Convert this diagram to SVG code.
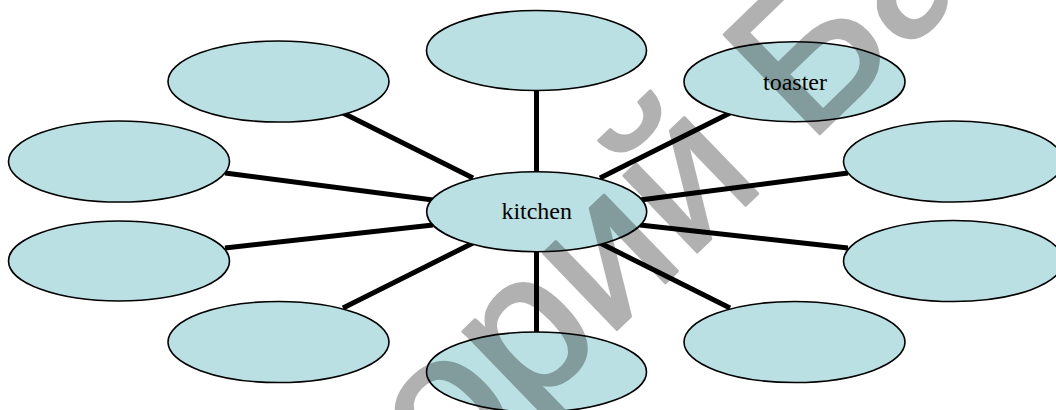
<svg xmlns="http://www.w3.org/2000/svg" width="1056" height="410" viewBox="0 0 1056 410">
<style>
.n{fill:#BBE0E3;stroke:#000;stroke-width:1.6}
.c line{stroke:#000;stroke-width:5}
.t{font-family:"Liberation Serif","Times New Roman",serif;font-size:24px;fill:#000;text-anchor:middle}
.w{font-family:"Liberation Sans",Arial,sans-serif;font-size:200px;fill:#000;stroke:#000;stroke-width:3;stroke-linejoin:round}
</style>
<rect width="1056" height="410" fill="#fff"/>
<g class="c" id="connectors">
<line x1="536.5" y1="211.5" x2="536.5" y2="80"/>
<line x1="536.5" y1="211.5" x2="536.5" y2="345"/>
<line x1="600" y1="178" x2="730" y2="113"/>
<line x1="640" y1="200" x2="848" y2="173"/>
<line x1="640" y1="225" x2="848" y2="248"/>
<line x1="600" y1="243" x2="730" y2="308"/>
<line x1="473" y1="178" x2="343" y2="113"/>
<line x1="433" y1="200" x2="225" y2="173"/>
<line x1="433" y1="225" x2="225" y2="248"/>
<line x1="473" y1="243" x2="343" y2="308"/>
</g>
<g id="n-top"><ellipse class="n" cx="536.5" cy="50.5" rx="110" ry="40"/></g>
<g id="n-toaster"><ellipse class="n" cx="794.5" cy="81.7" rx="110.5" ry="40"/><text class="t" x="795" y="89.5">toaster</text></g>
<g id="n-right1"><ellipse class="n" cx="953.5" cy="161.5" rx="110" ry="40.5"/></g>
<g id="n-right2"><ellipse class="n" cx="953.5" cy="261" rx="110" ry="40.5"/></g>
<g id="n-bottomright"><ellipse class="n" cx="794.5" cy="342" rx="110.5" ry="40.5"/></g>
<g id="n-bottom"><ellipse class="n" cx="536.5" cy="372" rx="110" ry="40"/></g>
<g id="n-bottomleft"><ellipse class="n" cx="278.5" cy="342" rx="110.5" ry="40.5"/></g>
<g id="n-left2"><ellipse class="n" cx="119" cy="261" rx="110.5" ry="40"/></g>
<g id="n-left1"><ellipse class="n" cx="119" cy="161.5" rx="110.5" ry="40.5"/></g>
<g id="n-topleft"><ellipse class="n" cx="278.5" cy="81.5" rx="110.5" ry="40.5"/></g>
<g id="n-kitchen"><ellipse class="n" cx="536.7" cy="211.7" rx="110" ry="40"/><text class="t" x="536.7" y="219">kitchen</text></g>
<g id="watermark" opacity="0.3" transform="translate(808,145) rotate(-44)">
<text class="w" x="-56" text-anchor="end">Репозиторий</text>
<text class="w" x="0">БарГУ</text>
</g>
</svg>
